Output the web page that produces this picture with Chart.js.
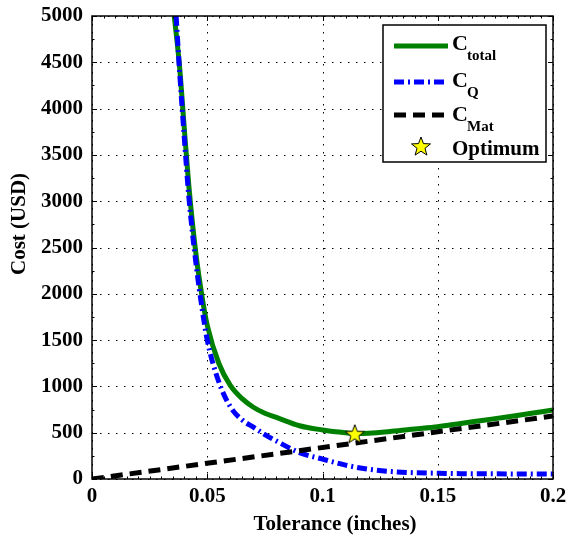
<!DOCTYPE html>
<html>
<head>
<meta charset="utf-8">
<script src="https://cdn.jsdelivr.net/npm/chart.js@4.4.1/dist/chart.umd.min.js"></script>
<style>
  body { margin: 0; background: #fff; }
  canvas { display: block; }
</style>
</head>
<body>
<canvas id="myChart" width="568" height="535"></canvas>
<script>
// values
const tolTotal = [0.0357, 0.038, 0.040, 0.042, 0.045, 0.048, 0.050, 0.055, 0.060, 0.065, 0.070, 0.075, 0.080, 0.090, 0.100, 0.110, 0.114, 0.120, 0.130, 0.140, 0.150, 0.160, 0.170, 0.180, 0.190, 0.200];
const costTotal = [5000, 4450, 3800, 3170, 2450, 1930, 1660, 1250, 1010, 870, 775, 710, 665, 575, 530, 500, 492, 495, 515, 540, 565, 600, 635, 670, 708, 745];

const tolQ = [0.0365, 0.038, 0.040, 0.042, 0.045, 0.048, 0.050, 0.055, 0.060, 0.065, 0.070, 0.075, 0.080, 0.090, 0.100, 0.110, 0.120, 0.130, 0.140, 0.150, 0.160, 0.180, 0.200];
const costQ = [5000, 4400, 3700, 3050, 2350, 1800, 1500, 1050, 780, 640, 560, 480, 410, 285, 215, 150, 105, 80, 68, 62, 58, 55, 54];

const tolMat = [0, 0.2];
const costMat = [0, 680];

const optimumTol = [0.114];
const optimumCost = [490];

const xTicks = [0, 0.05, 0.1, 0.15, 0.2];
const yTicks = [0, 500, 1000, 1500, 2000, 2500, 3000, 3500, 4000, 4500, 5000];

const FONT = "'Liberation Serif', 'Times New Roman', serif";

function pts(xs, ys) {
  return xs.map((x, i) => ({ x: x, y: ys[i] }));
}

function drawStar(g, cx, cy, r) {
  g.beginPath();
  for (let i = 0; i < 10; i++) {
    const a = -Math.PI / 2 + i * Math.PI / 5;
    const rr = i % 2 ? r * 0.42 : r;
    const px = cx + rr * Math.cos(a), py = cy + rr * Math.sin(a);
    if (i === 0) g.moveTo(px, py); else g.lineTo(px, py);
  }
  g.closePath();
  g.fillStyle = '#ffff00';
  g.fill();
  g.lineWidth = 1;
  g.strokeStyle = '#000';
  g.stroke();
}

function makeStar(r) {
  const c = document.createElement('canvas');
  const s = Math.ceil(r * 2 + 4);
  c.width = s; c.height = s;
  drawStar(c.getContext('2d'), s / 2, s / 2 + 1, r);
  return c;
}
const starImg = makeStar(10);

// dotted grid, box and inward ticks, MATLAB style
const axesBox = {
  id: 'axesBox',
  beforeDatasetsDraw(chart) {
    const { ctx, chartArea: a, scales: { x, y } } = chart;
    ctx.save();
    ctx.strokeStyle = '#000';
    ctx.lineWidth = 1;
    ctx.setLineDash([1.5, 6.5]);
    xTicks.forEach(v => {
      const px = Math.round(x.getPixelForValue(v)) + 0.5;
      ctx.beginPath(); ctx.moveTo(px, a.top); ctx.lineTo(px, a.bottom); ctx.stroke();
    });
    yTicks.forEach(v => {
      const py = Math.round(y.getPixelForValue(v)) + 0.5;
      ctx.beginPath(); ctx.moveTo(a.left, py); ctx.lineTo(a.right, py); ctx.stroke();
    });
    ctx.restore();
  },
  afterDatasetsDraw(chart) {
    const { ctx, chartArea: a, scales: { x, y } } = chart;
    ctx.save();
    ctx.strokeStyle = '#000';
    ctx.lineWidth = 1.5;
    ctx.setLineDash([]);
    ctx.strokeRect(a.left, a.top, a.right - a.left, a.bottom - a.top);
    ctx.lineWidth = 1;
    ctx.beginPath();
    for (let i = 0; i <= 40; i++) {
      const v = i * 0.005;
      const len = i % 10 === 0 ? 5 : 2.5;
      const px = Math.round(x.getPixelForValue(v)) + 0.5;
      ctx.moveTo(px, a.bottom); ctx.lineTo(px, a.bottom - len);
      ctx.moveTo(px, a.top); ctx.lineTo(px, a.top + len);
    }
    for (let i = 0; i <= 20; i++) {
      const v = i * 250;
      const len = i % 2 === 0 ? 5 : 2.5;
      const py = Math.round(y.getPixelForValue(v)) + 0.5;
      ctx.moveTo(a.left, py); ctx.lineTo(a.left + len, py);
      ctx.moveTo(a.right, py); ctx.lineTo(a.right - len, py);
    }
    ctx.stroke();
    ctx.restore();
  },
  afterDraw(chart) {
    const { ctx } = chart;
    ctx.save();
    ctx.fillStyle = '#000';
    ctx.font = 'bold 21px ' + FONT;
    ctx.textAlign = 'center';
    ctx.textBaseline = 'alphabetic';
    ctx.fillText('Tolerance (inches)', 335, 530);
    ctx.translate(25, 224);
    ctx.rotate(-Math.PI / 2);
    ctx.fillText('Cost (USD)', 0, 0);
    ctx.restore();

    // legend
    ctx.save();
    ctx.fillStyle = '#fff';
    ctx.fillRect(383, 25, 163, 137);
    ctx.strokeStyle = '#000';
    ctx.lineWidth = 1.5;
    ctx.strokeRect(383, 25, 163, 137);
    const rows = [
      { y: 46, color: '#008000', dash: [], sub: 'total', base: 50 },
      { y: 82, color: '#0000ff', dash: [10, 4, 2, 4], sub: 'Q', base: 87 },
      { y: 115, color: '#000', dash: [12, 7], sub: 'Mat', base: 121 }
    ];
    rows.forEach(r => {
      ctx.strokeStyle = r.color;
      ctx.lineWidth = 5;
      ctx.setLineDash(r.dash);
      ctx.beginPath(); ctx.moveTo(394, r.y); ctx.lineTo(448, r.y); ctx.stroke();
      ctx.setLineDash([]);
      ctx.fillStyle = '#000';
      ctx.textAlign = 'left';
      ctx.font = 'bold 22px ' + FONT;
      ctx.fillText('C', 452, r.base);
      ctx.font = 'bold 15px ' + FONT;
      ctx.fillText(r.sub, 467, r.base + 10);
    });
    drawStar(ctx, 421, 147, 10);
    ctx.fillStyle = '#000';
    ctx.font = 'bold 21px ' + FONT;
    ctx.fillText('Optimum', 452, 155);
    ctx.restore();
  }
};

const ctx = document.getElementById('myChart');

new Chart(ctx, {
  type: 'line',
  data: {
    datasets: [{
      label: 'C_total',
      data: pts(tolTotal, costTotal),
      borderColor: '#008000',
      borderWidth: 5,
      pointRadius: 0,
      cubicInterpolationMode: 'monotone',
      order: 3
    }, {
      label: 'C_Q',
      data: pts(tolQ, costQ),
      borderColor: '#0000ff',
      borderWidth: 5,
      borderDash: [10, 4, 2, 4],
      pointRadius: 0,
      cubicInterpolationMode: 'monotone',
      order: 2
    }, {
      label: 'C_Mat',
      data: pts(tolMat, costMat),
      borderColor: '#000',
      borderWidth: 5,
      borderDash: [12, 7],
      pointRadius: 0,
      order: 1
    }, {
      label: 'Optimum',
      data: pts(optimumTol, optimumCost),
      showLine: false,
      pointStyle: starImg,
      pointRadius: 10,
      order: 0
    }]
  },
  options: {
    responsive: false,
    devicePixelRatio: 1,
    animation: false,
    layout: { padding: { top: 16, right: 15, left: 0, bottom: 0 } },
    plugins: {
      legend: { display: false },
      tooltip: { enabled: false }
    },
    scales: {
      x: {
        type: 'linear',
        min: 0,
        max: 0.2,
        grid: { display: false, drawTicks: false },
        border: { display: false },
        afterFit: s => { s.height = 56; s.paddingLeft = 0; s.paddingRight = 0; },
        afterBuildTicks: s => { s.ticks = xTicks.map(v => ({ value: v })); },
        ticks: {
          padding: 5,
          maxRotation: 0,
          color: '#000',
          font: { family: FONT, size: 21, weight: 'bold' },
          callback: v => String(parseFloat(v.toFixed(3)))
        }
      },
      y: {
        min: 0,
        max: 5000,
        grid: { display: false, drawTicks: false },
        border: { display: false },
        afterFit: s => { s.width = 92; s.paddingTop = 0; s.paddingBottom = 0; },
        afterBuildTicks: s => { s.ticks = yTicks.map(v => ({ value: v })); },
        ticks: {
          padding: 9,
          color: '#000',
          font: { family: FONT, size: 21, weight: 'bold' },
          callback: v => String(v)
        }
      }
    }
  },
  plugins: [axesBox]
});
</script>
</body>
</html>
